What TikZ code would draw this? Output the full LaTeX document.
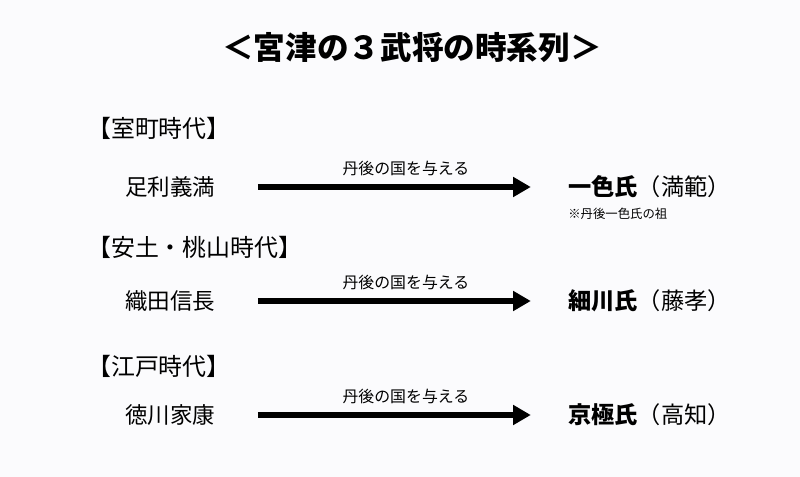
\documentclass[tikz,border=0pt]{standalone}
\usepackage{fontspec}
\usepackage{tikz}
\usetikzlibrary{positioning, arrows.meta, calc}
\usepackage{xcolor}
\setmainfont{Noto Sans CJK JP}
\definecolor{page-color}{RGB}{251,251,253}

\begin{document}
\begin{tikzpicture}[x=0.025cm, y=-0.025cm,
    title/.style={font=\fontsize{22.5}{26}\selectfont\bfseries, inner sep=0pt},
    era/.style={anchor=west, font=\fontsize{17}{20}\selectfont, inner sep=0pt},
    lord/.style={anchor=west, font=\fontsize{16}{19}\selectfont, inner sep=0pt},
    clan/.style={anchor=west, font=\fontsize{16.5}{19}\selectfont, inner sep=0pt},
    note/.style={anchor=west, font=\fontsize{8.8}{10}\selectfont, inner sep=0pt},
    grant/.style={font=\fontsize{11.3}{13}\selectfont, inner sep=0pt, above=6pt, pos=0.54},
    arrow/.style={-{Triangle[length=12.5pt, width=13.5pt]}, line width=4.3pt, shorten <=1.06cm, shorten >=0.93cm}]

    % Page
    \fill[page-color] (0,0) rectangle (800,477);

    % Title
    \node[title] (ttl) at (412,48) {＜宮津の３武将の時系列＞};

    % Muromachi
    \node[era] (era1) at (87,128) {【室町時代】};
    \node[lord] (lord1) at (125,187) {足利義満};
    \node[clan] (clan1) at (568,187) {\textbf{一色氏}（満範）};
    \node[note] (note1) at (568,214) {※丹後一色氏の祖};

    % Azuchi-Momoyama
    \node[era] (era2) at (87,247) {【安土・桃山時代】};
    \node[lord] (lord2) at (125,301) {織田信長};
    \node[clan] (clan2) at (568,301) {\textbf{細川氏}（藤孝）};

    % Edo
    \node[era] (era3) at (87,366) {【江戸時代】};
    \node[lord] (lord3) at (125,415) {徳川家康};
    \node[clan] (clan3) at (568,415) {\textbf{京極氏}（高知）};

    % Arrows
    \draw[arrow] (lord1) -- node[grant] (give1) {丹後の国を与える} (clan1);
    \draw[arrow] (lord2) -- node[grant] (give2) {丹後の国を与える} (clan2);
    \draw[arrow] (lord3) -- node[grant] (give3) {丹後の国を与える} (clan3);
\end{tikzpicture}
\end{document}
